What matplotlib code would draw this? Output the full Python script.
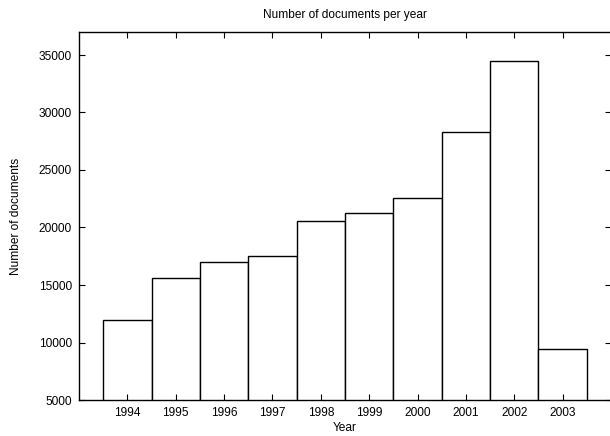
import matplotlib
matplotlib.use("Agg")
import matplotlib.pyplot as plt

# documents per year
years = [1994, 1995, 1996, 1997, 1998, 1999, 2000, 2001, 2002, 2003]
docs = [11950, 15600, 17000, 17500, 20600, 21250, 22550, 28300, 34450, 9400]
yticks = [5000, 10000, 15000, 20000, 25000, 30000, 35000]

plt.rcParams['font.family'] = ['Liberation Sans', 'DejaVu Sans']
fs = 8.6

fig = plt.figure(figsize=(6.1, 4.36), dpi=100)
ax = fig.add_axes([79 / 610, 36 / 436, 532 / 610, 368 / 436])

ax.bar(years, docs, width=1.0, bottom=0, color='white', edgecolor='black', linewidth=1.0)

ax.set_xlim(1993, 2004)
ax.set_ylim(5000, 37000)
ax.set_xticks(years)
ax.set_yticks(yticks)
ax.tick_params(direction='in', length=4, width=0.8, top=True, right=True,
               labelsize=fs, pad=5)
for s in ax.spines.values():
    s.set_linewidth(1.0)

ax.set_title('Number of documents per year', fontsize=fs, pad=10)
ax.set_xlabel('Year', fontsize=fs, labelpad=2)
ax.set_ylabel('Number of documents', fontsize=fs, labelpad=12)

fig.savefig('out.png', dpi=100)
